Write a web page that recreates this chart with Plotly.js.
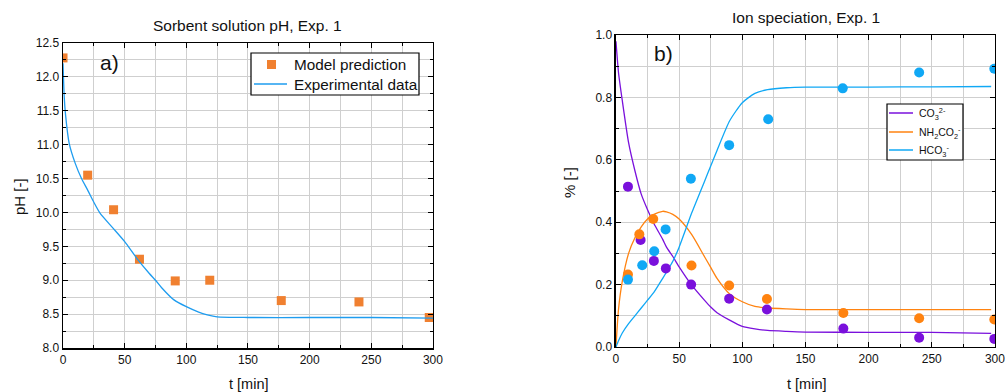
<!DOCTYPE html>
<html>
<head>
<meta charset="utf-8">
<script src="https://cdn.plot.ly/plotly-3.0.1.min.js"></script>
<style>html,body{margin:0;padding:0;background:#fff;}#chart{width:1005px;height:392px;}</style>
</head>
<body>
<div id="chart"></div>
<script>
// Panel a) pH
const modelT = [0, 20, 41, 62, 91, 119, 177, 240, 297];
const modelPH = [12.28, 10.55, 10.04, 9.31, 8.99, 9.0, 8.70, 8.68, 8.45];
const expT = [0, 1, 2, 5, 10, 15, 20, 25, 30, 40, 50, 60, 70, 75, 80, 90, 100, 110, 117, 125, 150, 200, 250, 300];
const expPH = [12.2, 11.7, 11.45, 11.02, 10.72, 10.5, 10.33, 10.15, 9.99, 9.78, 9.57, 9.32, 9.1, 9.0, 8.89, 8.71, 8.61, 8.53, 8.49, 8.46, 8.45, 8.45, 8.45, 8.44];
const namesA = ['Model prediction', 'Experimental data'];

// Panel b) ion speciation - measured points
const ptT = [9.5, 19.5, 30, 39.5, 59.5, 89.6, 119.5, 180, 240, 299.5];
const co3Pts = [0.514, 0.343, 0.276, 0.252, 0.200, 0.155, 0.120, 0.059, 0.030, 0.026];
const nhT = [9.5, 18.5, 29.5, 59.8, 89.6, 119.5, 180, 240, 299.5];
const nhPts = [0.232, 0.361, 0.410, 0.261, 0.197, 0.154, 0.109, 0.092, 0.088];
const hcT = [9.5, 20.8, 30.3, 39.3, 59.3, 89.6, 120.5, 179.5, 240, 299.5];
const hcPts = [0.216, 0.262, 0.307, 0.377, 0.539, 0.647, 0.730, 0.829, 0.880, 0.892];

// Panel b) model curves
const curveT = [0, 2, 5, 10, 15, 20, 25, 30, 37, 40, 45, 50, 60, 70, 75, 80, 90, 100, 110, 120, 135, 150, 200, 250, 297];
const co3Line = [0.98, 0.88, 0.79, 0.655, 0.565, 0.49, 0.44, 0.396, 0.345, 0.32, 0.29, 0.257, 0.198, 0.15, 0.128, 0.11, 0.086, 0.066, 0.058, 0.053, 0.05, 0.048, 0.047, 0.047, 0.044];
const nhLine = [0.0, 0.12, 0.21, 0.30, 0.35, 0.385, 0.41, 0.425, 0.435, 0.433, 0.425, 0.41, 0.36, 0.29, 0.255, 0.22, 0.17, 0.145, 0.13, 0.125, 0.122, 0.12, 0.12, 0.12, 0.12];
const hcLine = [0.0, 0.02, 0.045, 0.075, 0.10, 0.125, 0.15, 0.175, 0.22, 0.24, 0.275, 0.32, 0.43, 0.53, 0.58, 0.63, 0.725, 0.783, 0.813, 0.825, 0.831, 0.833, 0.833, 0.834, 0.835];
const namesB = ['CO<sub>3</sub><sup>2-</sup>', 'NH<sub>2</sub>CO<sub>2</sub><sup>-</sup>', 'HCO<sub>3</sub><sup>-</sup>'];

const cPurple = '#7A10DC';
const cOrange = '#FF8310';
const cBlue = '#10A8F5';
const cSquare = '#F08030';
const cLineBlue = '#1E9CEF';

const traces = [
  {x: modelT, y: modelPH, type: 'scatter', mode: 'markers', name: namesA[0], showlegend: false,
   marker: {symbol: 'square', size: 9, color: cSquare}, xaxis: 'x', yaxis: 'y'},
  {x: expT, y: expPH, type: 'scatter', mode: 'lines', name: namesA[1], showlegend: false,
   line: {color: cLineBlue, width: 1.3, shape: 'spline', smoothing: 0.6}, xaxis: 'x', yaxis: 'y'},
  {x: curveT, y: co3Line, type: 'scatter', mode: 'lines', name: namesB[0], showlegend: false,
   line: {color: cPurple, width: 1.3, shape: 'spline', smoothing: 0.6}, xaxis: 'x2', yaxis: 'y2'},
  {x: curveT, y: nhLine, type: 'scatter', mode: 'lines', name: namesB[1], showlegend: false,
   line: {color: cOrange, width: 1.3, shape: 'spline', smoothing: 0.6}, xaxis: 'x2', yaxis: 'y2'},
  {x: curveT, y: hcLine, type: 'scatter', mode: 'lines', name: namesB[2], showlegend: false,
   line: {color: cBlue, width: 1.3, shape: 'spline', smoothing: 0.6}, xaxis: 'x2', yaxis: 'y2'},
  {x: ptT, y: co3Pts, type: 'scatter', mode: 'markers', showlegend: false,
   marker: {symbol: 'circle', size: 10, color: cPurple}, xaxis: 'x2', yaxis: 'y2'},
  {x: nhT, y: nhPts, type: 'scatter', mode: 'markers', showlegend: false,
   marker: {symbol: 'circle', size: 10, color: cOrange}, xaxis: 'x2', yaxis: 'y2'},
  {x: hcT, y: hcPts, type: 'scatter', mode: 'markers', showlegend: false,
   marker: {symbol: 'circle', size: 10, color: cBlue}, xaxis: 'x2', yaxis: 'y2'}
];

const W = 1005, H = 392;
const fx = p => p / W;
const fy = p => 1 - p / H;
const FAM = 'Liberation Sans, Arial, sans-serif';
const TXT = '#111';

function ax(extra) {
  return Object.assign({
    showline: true, linecolor: '#000', linewidth: 1.5, mirror: 'allticks',
    ticks: 'inside', ticklen: 5, tickcolor: '#000', tickwidth: 1,
    showgrid: true, gridcolor: '#cfcfcf', gridwidth: 1, zeroline: false,
    tickfont: {family: FAM, size: 12, color: TXT}, ticklabeloverflow: 'allow',
    fixedrange: true
  }, extra);
}
const minorX = {dtick: 25, showgrid: true, gridcolor: '#cfcfcf', ticks: 'inside', ticklen: 3, tickcolor: '#000'};

function ann(text, x, y, size, opts) {
  return Object.assign({text: text, x: fx(x), y: fy(y), xref: 'paper', yref: 'paper',
    showarrow: false, font: {size: size, family: FAM, color: TXT}, xanchor: 'center', yanchor: 'middle'}, opts || {});
}

// Legend boxes (manual, to match the compact original legends)
const shapes = [];
function rectPx(x0, y0, x1, y1, line, fill) {
  shapes.push({type: 'rect', xref: 'paper', yref: 'paper', x0: fx(x0), x1: fx(x1), y0: fy(y1), y1: fy(y0),
    line: line, fillcolor: fill, layer: 'above'});
}
function linePx(x0, y0, x1, y1, color, w) {
  shapes.push({type: 'line', xref: 'paper', yref: 'paper', x0: fx(x0), x1: fx(x1), y0: fy(y0), y1: fy(y1),
    line: {color: color, width: w}, layer: 'above'});
}
const annotations = [
  ann('Sorbent solution pH, Exp. 1', 247, 25, 15.5),
  ann('Ion speciation, Exp. 1', 806, 17, 15.5),
  ann('pH [-]', 19, 197, 15, {textangle: -90}),
  ann('% [-]', 569, 183, 15, {textangle: -90}),
  ann('t [min]', 248, 384, 14.5),
  ann('t [min]', 806, 384, 14.5),
  ann('a)', 109, 62, 21),
  ann('b)', 663, 53, 21)
];

// Legend a)
rectPx(251, 53, 419, 95, {color: '#000', width: 1.2}, '#fff');
rectPx(267, 60, 276, 69, {width: 0}, cSquare);
linePx(254, 84, 287, 84, cLineBlue, 1.3);
annotations.push(ann(namesA[0], 292, 64.5, 15.3, {xanchor: 'left'}));
annotations.push(ann(namesA[1], 292, 84.5, 15.3, {xanchor: 'left'}));

// Legend b)
const legBColors = [cPurple, cOrange, cBlue];
const legBRows = [113, 132, 150];
rectPx(887, 104, 963, 160, {color: '#000', width: 1.2}, '#fff');
namesB.forEach((n, i) => {
  linePx(889, legBRows[i], 913, legBRows[i], legBColors[i], 1.5);
  annotations.push(ann(n, 917, legBRows[i] + 0.5, 10.5, {xanchor: 'left'}));
});

const layout = {
  width: W, height: H,
  margin: {l: 0, r: 0, t: 0, b: 0},
  paper_bgcolor: '#fff', plot_bgcolor: '#fff',
  font: {family: FAM, color: TXT},
  showlegend: false,
  xaxis: ax({domain: [0.0627, 0.4308], range: [0, 300], dtick: 50, tick0: 0, anchor: 'y', minor: minorX}),
  yaxis: ax({domain: [0.1122, 0.8903], range: [8, 12.5], dtick: 0.5, tick0: 8, tickformat: '.1f', anchor: 'x',
    minor: {dtick: 0.25, showgrid: true, gridcolor: '#cfcfcf', ticks: 'inside', ticklen: 3, tickcolor: '#000'}}),
  xaxis2: ax({domain: [0.6129, 0.9900], range: [0, 300], dtick: 50, tick0: 0, anchor: 'y2', minor: minorX}),
  yaxis2: ax({domain: [0.1148, 0.9107], range: [0, 1], dtick: 0.2, tick0: 0, tickformat: '.1f', anchor: 'x2',
    minor: {dtick: 0.1, showgrid: true, gridcolor: '#cfcfcf', ticks: 'inside', ticklen: 3, tickcolor: '#000'}}),
  shapes: shapes,
  annotations: annotations
};

Plotly.newPlot('chart', traces, layout, {displayModeBar: false, staticPlot: true});
</script>
</body>
</html>
